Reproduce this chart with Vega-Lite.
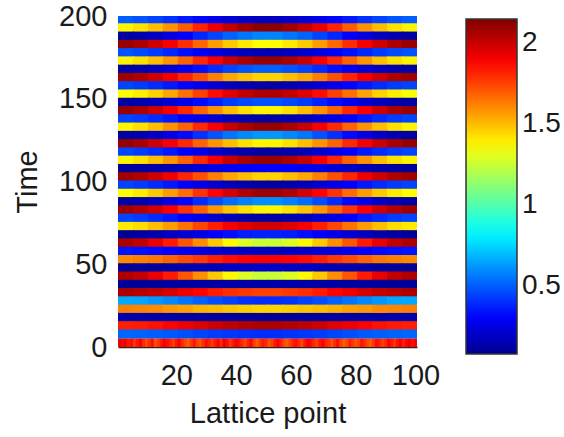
{
  "$schema": "https://vega.github.io/schema/vega-lite/v6.json",
  "width": 299,
  "height": 331,
  "autosize": {"type": "none"},
  "padding": {"left": 118, "top": 16, "right": 147, "bottom": 90},
  "background": "white",
  "config": {
    "view": {"stroke": null},
    "font": "Liberation Sans",
    "axis": {"labelColor": "#1a1a1a", "titleColor": "#1a1a1a", "titleFontWeight": "normal", "grid": false, "ticks": false, "domain": false, "labelFlush": false, "labelOverlap": false}
  },
  "datasets": {
    "field": [
      {"t":195,"p":3,"v":0.50},{"t":195,"p":8,"v":0.48},{"t":195,"p":13,"v":0.45},{"t":195,"p":18,"v":0.41},{"t":195,"p":23,"v":0.36},{"t":195,"p":28,"v":0.32},{"t":195,"p":33,"v":0.27},{"t":195,"p":38,"v":0.23},{"t":195,"p":43,"v":0.20},{"t":195,"p":48,"v":0.18},{"t":195,"p":53,"v":0.18},{"t":195,"p":58,"v":0.20},{"t":195,"p":63,"v":0.23},{"t":195,"p":68,"v":0.27},{"t":195,"p":73,"v":0.32},{"t":195,"p":78,"v":0.36},{"t":195,"p":83,"v":0.41},{"t":195,"p":88,"v":0.45},{"t":195,"p":93,"v":0.48},{"t":195,"p":98,"v":0.50},
      {"t":190,"p":3,"v":1.38},{"t":190,"p":8,"v":1.42},{"t":190,"p":13,"v":1.49},{"t":190,"p":18,"v":1.58},{"t":190,"p":23,"v":1.69},{"t":190,"p":28,"v":1.81},{"t":190,"p":33,"v":1.92},{"t":190,"p":38,"v":2.01},{"t":190,"p":43,"v":2.08},{"t":190,"p":48,"v":2.12},{"t":190,"p":53,"v":2.12},{"t":190,"p":58,"v":2.08},{"t":190,"p":63,"v":2.01},{"t":190,"p":68,"v":1.92},{"t":190,"p":73,"v":1.81},{"t":190,"p":78,"v":1.69},{"t":190,"p":83,"v":1.58},{"t":190,"p":88,"v":1.49},{"t":190,"p":93,"v":1.42},{"t":190,"p":98,"v":1.38},
      {"t":185,"p":3,"v":0.12},{"t":185,"p":8,"v":0.15},{"t":185,"p":13,"v":0.19},{"t":185,"p":18,"v":0.25},{"t":185,"p":23,"v":0.31},{"t":185,"p":28,"v":0.39},{"t":185,"p":33,"v":0.45},{"t":185,"p":38,"v":0.51},{"t":185,"p":43,"v":0.55},{"t":185,"p":48,"v":0.58},{"t":185,"p":53,"v":0.58},{"t":185,"p":58,"v":0.55},{"t":185,"p":63,"v":0.51},{"t":185,"p":68,"v":0.45},{"t":185,"p":73,"v":0.39},{"t":185,"p":78,"v":0.31},{"t":185,"p":83,"v":0.25},{"t":185,"p":88,"v":0.19},{"t":185,"p":93,"v":0.15},{"t":185,"p":98,"v":0.12},
      {"t":180,"p":3,"v":2.10},{"t":180,"p":8,"v":2.06},{"t":180,"p":13,"v":1.99},{"t":180,"p":18,"v":1.90},{"t":180,"p":23,"v":1.79},{"t":180,"p":28,"v":1.67},{"t":180,"p":33,"v":1.56},{"t":180,"p":38,"v":1.47},{"t":180,"p":43,"v":1.40},{"t":180,"p":48,"v":1.36},{"t":180,"p":53,"v":1.36},{"t":180,"p":58,"v":1.40},{"t":180,"p":63,"v":1.47},{"t":180,"p":68,"v":1.56},{"t":180,"p":73,"v":1.67},{"t":180,"p":78,"v":1.79},{"t":180,"p":83,"v":1.90},{"t":180,"p":88,"v":1.99},{"t":180,"p":93,"v":2.06},{"t":180,"p":98,"v":2.10},
      {"t":175,"p":3,"v":0.48},{"t":175,"p":8,"v":0.46},{"t":175,"p":13,"v":0.43},{"t":175,"p":18,"v":0.39},{"t":175,"p":23,"v":0.34},{"t":175,"p":28,"v":0.29},{"t":175,"p":33,"v":0.24},{"t":175,"p":38,"v":0.20},{"t":175,"p":43,"v":0.17},{"t":175,"p":48,"v":0.15},{"t":175,"p":53,"v":0.15},{"t":175,"p":58,"v":0.17},{"t":175,"p":63,"v":0.20},{"t":175,"p":68,"v":0.24},{"t":175,"p":73,"v":0.29},{"t":175,"p":78,"v":0.34},{"t":175,"p":83,"v":0.39},{"t":175,"p":88,"v":0.43},{"t":175,"p":93,"v":0.46},{"t":175,"p":98,"v":0.48},
      {"t":170,"p":3,"v":1.38},{"t":170,"p":8,"v":1.42},{"t":170,"p":13,"v":1.49},{"t":170,"p":18,"v":1.58},{"t":170,"p":23,"v":1.68},{"t":170,"p":28,"v":1.80},{"t":170,"p":33,"v":1.90},{"t":170,"p":38,"v":2.00},{"t":170,"p":43,"v":2.06},{"t":170,"p":48,"v":2.10},{"t":170,"p":53,"v":2.10},{"t":170,"p":58,"v":2.06},{"t":170,"p":63,"v":2.00},{"t":170,"p":68,"v":1.90},{"t":170,"p":73,"v":1.80},{"t":170,"p":78,"v":1.68},{"t":170,"p":83,"v":1.58},{"t":170,"p":88,"v":1.49},{"t":170,"p":93,"v":1.42},{"t":170,"p":98,"v":1.38},
      {"t":165,"p":3,"v":0.12},{"t":165,"p":8,"v":0.14},{"t":165,"p":13,"v":0.18},{"t":165,"p":18,"v":0.22},{"t":165,"p":23,"v":0.28},{"t":165,"p":28,"v":0.34},{"t":165,"p":33,"v":0.40},{"t":165,"p":38,"v":0.45},{"t":165,"p":43,"v":0.48},{"t":165,"p":48,"v":0.50},{"t":165,"p":53,"v":0.50},{"t":165,"p":58,"v":0.48},{"t":165,"p":63,"v":0.45},{"t":165,"p":68,"v":0.40},{"t":165,"p":73,"v":0.34},{"t":165,"p":78,"v":0.28},{"t":165,"p":83,"v":0.22},{"t":165,"p":88,"v":0.18},{"t":165,"p":93,"v":0.14},{"t":165,"p":98,"v":0.12},
      {"t":160,"p":3,"v":2.08},{"t":160,"p":8,"v":2.05},{"t":160,"p":13,"v":1.99},{"t":160,"p":18,"v":1.91},{"t":160,"p":23,"v":1.81},{"t":160,"p":28,"v":1.72},{"t":160,"p":33,"v":1.62},{"t":160,"p":38,"v":1.54},{"t":160,"p":43,"v":1.49},{"t":160,"p":48,"v":1.45},{"t":160,"p":53,"v":1.45},{"t":160,"p":58,"v":1.49},{"t":160,"p":63,"v":1.54},{"t":160,"p":68,"v":1.62},{"t":160,"p":73,"v":1.72},{"t":160,"p":78,"v":1.81},{"t":160,"p":83,"v":1.91},{"t":160,"p":88,"v":1.99},{"t":160,"p":93,"v":2.05},{"t":160,"p":98,"v":2.08},
      {"t":155,"p":3,"v":0.45},{"t":155,"p":8,"v":0.43},{"t":155,"p":13,"v":0.40},{"t":155,"p":18,"v":0.36},{"t":155,"p":23,"v":0.32},{"t":155,"p":28,"v":0.27},{"t":155,"p":33,"v":0.22},{"t":155,"p":38,"v":0.18},{"t":155,"p":43,"v":0.15},{"t":155,"p":48,"v":0.13},{"t":155,"p":53,"v":0.13},{"t":155,"p":58,"v":0.15},{"t":155,"p":63,"v":0.18},{"t":155,"p":68,"v":0.22},{"t":155,"p":73,"v":0.27},{"t":155,"p":78,"v":0.32},{"t":155,"p":83,"v":0.36},{"t":155,"p":88,"v":0.40},{"t":155,"p":93,"v":0.43},{"t":155,"p":98,"v":0.45},
      {"t":150,"p":3,"v":1.35},{"t":150,"p":8,"v":1.39},{"t":150,"p":13,"v":1.45},{"t":150,"p":18,"v":1.54},{"t":150,"p":23,"v":1.65},{"t":150,"p":28,"v":1.75},{"t":150,"p":33,"v":1.86},{"t":150,"p":38,"v":1.95},{"t":150,"p":43,"v":2.01},{"t":150,"p":48,"v":2.05},{"t":150,"p":53,"v":2.05},{"t":150,"p":58,"v":2.01},{"t":150,"p":63,"v":1.95},{"t":150,"p":68,"v":1.86},{"t":150,"p":73,"v":1.75},{"t":150,"p":78,"v":1.65},{"t":150,"p":83,"v":1.54},{"t":150,"p":88,"v":1.45},{"t":150,"p":93,"v":1.39},{"t":150,"p":98,"v":1.35},
      {"t":145,"p":3,"v":0.12},{"t":145,"p":8,"v":0.14},{"t":145,"p":13,"v":0.17},{"t":145,"p":18,"v":0.22},{"t":145,"p":23,"v":0.27},{"t":145,"p":28,"v":0.33},{"t":145,"p":33,"v":0.38},{"t":145,"p":38,"v":0.43},{"t":145,"p":43,"v":0.46},{"t":145,"p":48,"v":0.48},{"t":145,"p":53,"v":0.48},{"t":145,"p":58,"v":0.46},{"t":145,"p":63,"v":0.43},{"t":145,"p":68,"v":0.38},{"t":145,"p":73,"v":0.33},{"t":145,"p":78,"v":0.27},{"t":145,"p":83,"v":0.22},{"t":145,"p":88,"v":0.17},{"t":145,"p":93,"v":0.14},{"t":145,"p":98,"v":0.12},
      {"t":140,"p":3,"v":2.10},{"t":140,"p":8,"v":2.06},{"t":140,"p":13,"v":1.99},{"t":140,"p":18,"v":1.90},{"t":140,"p":23,"v":1.80},{"t":140,"p":28,"v":1.68},{"t":140,"p":33,"v":1.58},{"t":140,"p":38,"v":1.49},{"t":140,"p":43,"v":1.42},{"t":140,"p":48,"v":1.38},{"t":140,"p":53,"v":1.38},{"t":140,"p":58,"v":1.42},{"t":140,"p":63,"v":1.49},{"t":140,"p":68,"v":1.58},{"t":140,"p":73,"v":1.68},{"t":140,"p":78,"v":1.80},{"t":140,"p":83,"v":1.90},{"t":140,"p":88,"v":1.99},{"t":140,"p":93,"v":2.06},{"t":140,"p":98,"v":2.10},
      {"t":135,"p":3,"v":0.45},{"t":135,"p":8,"v":0.43},{"t":135,"p":13,"v":0.40},{"t":135,"p":18,"v":0.36},{"t":135,"p":23,"v":0.31},{"t":135,"p":28,"v":0.26},{"t":135,"p":33,"v":0.21},{"t":135,"p":38,"v":0.17},{"t":135,"p":43,"v":0.14},{"t":135,"p":48,"v":0.12},{"t":135,"p":53,"v":0.12},{"t":135,"p":58,"v":0.14},{"t":135,"p":63,"v":0.17},{"t":135,"p":68,"v":0.21},{"t":135,"p":73,"v":0.26},{"t":135,"p":78,"v":0.31},{"t":135,"p":83,"v":0.36},{"t":135,"p":88,"v":0.40},{"t":135,"p":93,"v":0.43},{"t":135,"p":98,"v":0.45},
      {"t":130,"p":3,"v":1.38},{"t":130,"p":8,"v":1.42},{"t":130,"p":13,"v":1.49},{"t":130,"p":18,"v":1.58},{"t":130,"p":23,"v":1.68},{"t":130,"p":28,"v":1.80},{"t":130,"p":33,"v":1.90},{"t":130,"p":38,"v":2.00},{"t":130,"p":43,"v":2.06},{"t":130,"p":48,"v":2.10},{"t":130,"p":53,"v":2.10},{"t":130,"p":58,"v":2.06},{"t":130,"p":63,"v":2.00},{"t":130,"p":68,"v":1.90},{"t":130,"p":73,"v":1.80},{"t":130,"p":78,"v":1.68},{"t":130,"p":83,"v":1.58},{"t":130,"p":88,"v":1.49},{"t":130,"p":93,"v":1.42},{"t":130,"p":98,"v":1.38},
      {"t":125,"p":3,"v":0.12},{"t":125,"p":8,"v":0.15},{"t":125,"p":13,"v":0.19},{"t":125,"p":18,"v":0.26},{"t":125,"p":23,"v":0.33},{"t":125,"p":28,"v":0.41},{"t":125,"p":33,"v":0.48},{"t":125,"p":38,"v":0.55},{"t":125,"p":43,"v":0.59},{"t":125,"p":48,"v":0.62},{"t":125,"p":53,"v":0.62},{"t":125,"p":58,"v":0.59},{"t":125,"p":63,"v":0.55},{"t":125,"p":68,"v":0.48},{"t":125,"p":73,"v":0.41},{"t":125,"p":78,"v":0.33},{"t":125,"p":83,"v":0.26},{"t":125,"p":88,"v":0.19},{"t":125,"p":93,"v":0.15},{"t":125,"p":98,"v":0.12},
      {"t":120,"p":3,"v":2.10},{"t":120,"p":8,"v":2.06},{"t":120,"p":13,"v":1.99},{"t":120,"p":18,"v":1.90},{"t":120,"p":23,"v":1.80},{"t":120,"p":28,"v":1.68},{"t":120,"p":33,"v":1.58},{"t":120,"p":38,"v":1.49},{"t":120,"p":43,"v":1.42},{"t":120,"p":48,"v":1.38},{"t":120,"p":53,"v":1.38},{"t":120,"p":58,"v":1.42},{"t":120,"p":63,"v":1.49},{"t":120,"p":68,"v":1.58},{"t":120,"p":73,"v":1.68},{"t":120,"p":78,"v":1.80},{"t":120,"p":83,"v":1.90},{"t":120,"p":88,"v":1.99},{"t":120,"p":93,"v":2.06},{"t":120,"p":98,"v":2.10},
      {"t":115,"p":3,"v":0.45},{"t":115,"p":8,"v":0.43},{"t":115,"p":13,"v":0.40},{"t":115,"p":18,"v":0.36},{"t":115,"p":23,"v":0.31},{"t":115,"p":28,"v":0.26},{"t":115,"p":33,"v":0.21},{"t":115,"p":38,"v":0.17},{"t":115,"p":43,"v":0.14},{"t":115,"p":48,"v":0.12},{"t":115,"p":53,"v":0.12},{"t":115,"p":58,"v":0.14},{"t":115,"p":63,"v":0.17},{"t":115,"p":68,"v":0.21},{"t":115,"p":73,"v":0.26},{"t":115,"p":78,"v":0.31},{"t":115,"p":83,"v":0.36},{"t":115,"p":88,"v":0.40},{"t":115,"p":93,"v":0.43},{"t":115,"p":98,"v":0.45},
      {"t":110,"p":3,"v":1.38},{"t":110,"p":8,"v":1.42},{"t":110,"p":13,"v":1.49},{"t":110,"p":18,"v":1.58},{"t":110,"p":23,"v":1.68},{"t":110,"p":28,"v":1.80},{"t":110,"p":33,"v":1.90},{"t":110,"p":38,"v":2.00},{"t":110,"p":43,"v":2.06},{"t":110,"p":48,"v":2.10},{"t":110,"p":53,"v":2.10},{"t":110,"p":58,"v":2.06},{"t":110,"p":63,"v":2.00},{"t":110,"p":68,"v":1.90},{"t":110,"p":73,"v":1.80},{"t":110,"p":78,"v":1.68},{"t":110,"p":83,"v":1.58},{"t":110,"p":88,"v":1.49},{"t":110,"p":93,"v":1.42},{"t":110,"p":98,"v":1.38},
      {"t":105,"p":3,"v":0.10},{"t":105,"p":8,"v":0.11},{"t":105,"p":13,"v":0.13},{"t":105,"p":18,"v":0.15},{"t":105,"p":23,"v":0.18},{"t":105,"p":28,"v":0.22},{"t":105,"p":33,"v":0.25},{"t":105,"p":38,"v":0.27},{"t":105,"p":43,"v":0.29},{"t":105,"p":48,"v":0.30},{"t":105,"p":53,"v":0.30},{"t":105,"p":58,"v":0.29},{"t":105,"p":63,"v":0.27},{"t":105,"p":68,"v":0.25},{"t":105,"p":73,"v":0.22},{"t":105,"p":78,"v":0.18},{"t":105,"p":83,"v":0.15},{"t":105,"p":88,"v":0.13},{"t":105,"p":93,"v":0.11},{"t":105,"p":98,"v":0.10},
      {"t":100,"p":3,"v":2.08},{"t":100,"p":8,"v":2.05},{"t":100,"p":13,"v":1.99},{"t":100,"p":18,"v":1.91},{"t":100,"p":23,"v":1.81},{"t":100,"p":28,"v":1.72},{"t":100,"p":33,"v":1.62},{"t":100,"p":38,"v":1.54},{"t":100,"p":43,"v":1.49},{"t":100,"p":48,"v":1.45},{"t":100,"p":53,"v":1.45},{"t":100,"p":58,"v":1.49},{"t":100,"p":63,"v":1.54},{"t":100,"p":68,"v":1.62},{"t":100,"p":73,"v":1.72},{"t":100,"p":78,"v":1.81},{"t":100,"p":83,"v":1.91},{"t":100,"p":88,"v":1.99},{"t":100,"p":93,"v":2.05},{"t":100,"p":98,"v":2.08},
      {"t":95,"p":3,"v":0.45},{"t":95,"p":8,"v":0.43},{"t":95,"p":13,"v":0.40},{"t":95,"p":18,"v":0.36},{"t":95,"p":23,"v":0.31},{"t":95,"p":28,"v":0.26},{"t":95,"p":33,"v":0.21},{"t":95,"p":38,"v":0.17},{"t":95,"p":43,"v":0.14},{"t":95,"p":48,"v":0.12},{"t":95,"p":53,"v":0.12},{"t":95,"p":58,"v":0.14},{"t":95,"p":63,"v":0.17},{"t":95,"p":68,"v":0.21},{"t":95,"p":73,"v":0.26},{"t":95,"p":78,"v":0.31},{"t":95,"p":83,"v":0.36},{"t":95,"p":88,"v":0.40},{"t":95,"p":93,"v":0.43},{"t":95,"p":98,"v":0.45},
      {"t":90,"p":3,"v":1.36},{"t":90,"p":8,"v":1.40},{"t":90,"p":13,"v":1.47},{"t":90,"p":18,"v":1.56},{"t":90,"p":23,"v":1.66},{"t":90,"p":28,"v":1.78},{"t":90,"p":33,"v":1.88},{"t":90,"p":38,"v":1.97},{"t":90,"p":43,"v":2.04},{"t":90,"p":48,"v":2.08},{"t":90,"p":53,"v":2.08},{"t":90,"p":58,"v":2.04},{"t":90,"p":63,"v":1.97},{"t":90,"p":68,"v":1.88},{"t":90,"p":73,"v":1.78},{"t":90,"p":78,"v":1.66},{"t":90,"p":83,"v":1.56},{"t":90,"p":88,"v":1.47},{"t":90,"p":93,"v":1.40},{"t":90,"p":98,"v":1.36},
      {"t":85,"p":3,"v":0.12},{"t":85,"p":8,"v":0.15},{"t":85,"p":13,"v":0.19},{"t":85,"p":18,"v":0.25},{"t":85,"p":23,"v":0.32},{"t":85,"p":28,"v":0.40},{"t":85,"p":33,"v":0.47},{"t":85,"p":38,"v":0.53},{"t":85,"p":43,"v":0.57},{"t":85,"p":48,"v":0.60},{"t":85,"p":53,"v":0.60},{"t":85,"p":58,"v":0.57},{"t":85,"p":63,"v":0.53},{"t":85,"p":68,"v":0.47},{"t":85,"p":73,"v":0.40},{"t":85,"p":78,"v":0.32},{"t":85,"p":83,"v":0.25},{"t":85,"p":88,"v":0.19},{"t":85,"p":93,"v":0.15},{"t":85,"p":98,"v":0.12},
      {"t":80,"p":3,"v":2.08},{"t":80,"p":8,"v":2.04},{"t":80,"p":13,"v":1.98},{"t":80,"p":18,"v":1.89},{"t":80,"p":23,"v":1.78},{"t":80,"p":28,"v":1.68},{"t":80,"p":33,"v":1.57},{"t":80,"p":38,"v":1.48},{"t":80,"p":43,"v":1.42},{"t":80,"p":48,"v":1.38},{"t":80,"p":53,"v":1.38},{"t":80,"p":58,"v":1.42},{"t":80,"p":63,"v":1.48},{"t":80,"p":68,"v":1.57},{"t":80,"p":73,"v":1.68},{"t":80,"p":78,"v":1.78},{"t":80,"p":83,"v":1.89},{"t":80,"p":88,"v":1.98},{"t":80,"p":93,"v":2.04},{"t":80,"p":98,"v":2.08},
      {"t":75,"p":3,"v":0.45},{"t":75,"p":8,"v":0.43},{"t":75,"p":13,"v":0.40},{"t":75,"p":18,"v":0.36},{"t":75,"p":23,"v":0.31},{"t":75,"p":28,"v":0.26},{"t":75,"p":33,"v":0.21},{"t":75,"p":38,"v":0.17},{"t":75,"p":43,"v":0.14},{"t":75,"p":48,"v":0.12},{"t":75,"p":53,"v":0.12},{"t":75,"p":58,"v":0.14},{"t":75,"p":63,"v":0.17},{"t":75,"p":68,"v":0.21},{"t":75,"p":73,"v":0.26},{"t":75,"p":78,"v":0.31},{"t":75,"p":83,"v":0.36},{"t":75,"p":88,"v":0.40},{"t":75,"p":93,"v":0.43},{"t":75,"p":98,"v":0.45},
      {"t":70,"p":3,"v":1.40},{"t":70,"p":8,"v":1.43},{"t":70,"p":13,"v":1.49},{"t":70,"p":18,"v":1.56},{"t":70,"p":23,"v":1.65},{"t":70,"p":28,"v":1.74},{"t":70,"p":33,"v":1.82},{"t":70,"p":38,"v":1.90},{"t":70,"p":43,"v":1.95},{"t":70,"p":48,"v":1.98},{"t":70,"p":53,"v":1.98},{"t":70,"p":58,"v":1.95},{"t":70,"p":63,"v":1.90},{"t":70,"p":68,"v":1.82},{"t":70,"p":73,"v":1.74},{"t":70,"p":78,"v":1.65},{"t":70,"p":83,"v":1.56},{"t":70,"p":88,"v":1.49},{"t":70,"p":93,"v":1.43},{"t":70,"p":98,"v":1.40},
      {"t":65,"p":3,"v":0.10},{"t":65,"p":8,"v":0.12},{"t":65,"p":13,"v":0.14},{"t":65,"p":18,"v":0.18},{"t":65,"p":23,"v":0.22},{"t":65,"p":28,"v":0.26},{"t":65,"p":33,"v":0.30},{"t":65,"p":38,"v":0.34},{"t":65,"p":43,"v":0.37},{"t":65,"p":48,"v":0.38},{"t":65,"p":53,"v":0.38},{"t":65,"p":58,"v":0.37},{"t":65,"p":63,"v":0.34},{"t":65,"p":68,"v":0.30},{"t":65,"p":73,"v":0.26},{"t":65,"p":78,"v":0.22},{"t":65,"p":83,"v":0.18},{"t":65,"p":88,"v":0.14},{"t":65,"p":93,"v":0.12},{"t":65,"p":98,"v":0.10},
      {"t":60,"p":3,"v":2.05},{"t":60,"p":8,"v":2.01},{"t":60,"p":13,"v":1.93},{"t":60,"p":18,"v":1.83},{"t":60,"p":23,"v":1.71},{"t":60,"p":28,"v":1.59},{"t":60,"p":33,"v":1.47},{"t":60,"p":38,"v":1.37},{"t":60,"p":43,"v":1.29},{"t":60,"p":48,"v":1.25},{"t":60,"p":53,"v":1.25},{"t":60,"p":58,"v":1.29},{"t":60,"p":63,"v":1.37},{"t":60,"p":68,"v":1.47},{"t":60,"p":73,"v":1.59},{"t":60,"p":78,"v":1.71},{"t":60,"p":83,"v":1.83},{"t":60,"p":88,"v":1.93},{"t":60,"p":93,"v":2.01},{"t":60,"p":98,"v":2.05},
      {"t":55,"p":3,"v":0.35},{"t":55,"p":8,"v":0.34},{"t":55,"p":13,"v":0.33},{"t":55,"p":18,"v":0.30},{"t":55,"p":23,"v":0.28},{"t":55,"p":28,"v":0.25},{"t":55,"p":33,"v":0.23},{"t":55,"p":38,"v":0.20},{"t":55,"p":43,"v":0.19},{"t":55,"p":48,"v":0.18},{"t":55,"p":53,"v":0.18},{"t":55,"p":58,"v":0.19},{"t":55,"p":63,"v":0.20},{"t":55,"p":68,"v":0.23},{"t":55,"p":73,"v":0.25},{"t":55,"p":78,"v":0.28},{"t":55,"p":83,"v":0.30},{"t":55,"p":88,"v":0.33},{"t":55,"p":93,"v":0.34},{"t":55,"p":98,"v":0.35},
      {"t":50,"p":3,"v":1.60},{"t":50,"p":8,"v":1.62},{"t":50,"p":13,"v":1.64},{"t":50,"p":18,"v":1.68},{"t":50,"p":23,"v":1.73},{"t":50,"p":28,"v":1.77},{"t":50,"p":33,"v":1.82},{"t":50,"p":38,"v":1.86},{"t":50,"p":43,"v":1.88},{"t":50,"p":48,"v":1.90},{"t":50,"p":53,"v":1.90},{"t":50,"p":58,"v":1.88},{"t":50,"p":63,"v":1.86},{"t":50,"p":68,"v":1.82},{"t":50,"p":73,"v":1.77},{"t":50,"p":78,"v":1.73},{"t":50,"p":83,"v":1.68},{"t":50,"p":88,"v":1.64},{"t":50,"p":93,"v":1.62},{"t":50,"p":98,"v":1.60},
      {"t":45,"p":3,"v":0.10},{"t":45,"p":8,"v":0.11},{"t":45,"p":13,"v":0.11},{"t":45,"p":18,"v":0.13},{"t":45,"p":23,"v":0.14},{"t":45,"p":28,"v":0.16},{"t":45,"p":33,"v":0.17},{"t":45,"p":38,"v":0.19},{"t":45,"p":43,"v":0.19},{"t":45,"p":48,"v":0.20},{"t":45,"p":53,"v":0.20},{"t":45,"p":58,"v":0.19},{"t":45,"p":63,"v":0.19},{"t":45,"p":68,"v":0.17},{"t":45,"p":73,"v":0.16},{"t":45,"p":78,"v":0.14},{"t":45,"p":83,"v":0.13},{"t":45,"p":88,"v":0.11},{"t":45,"p":93,"v":0.11},{"t":45,"p":98,"v":0.10},
      {"t":40,"p":3,"v":2.05},{"t":40,"p":8,"v":2.01},{"t":40,"p":13,"v":1.93},{"t":40,"p":18,"v":1.83},{"t":40,"p":23,"v":1.71},{"t":40,"p":28,"v":1.59},{"t":40,"p":33,"v":1.47},{"t":40,"p":38,"v":1.37},{"t":40,"p":43,"v":1.29},{"t":40,"p":48,"v":1.25},{"t":40,"p":53,"v":1.25},{"t":40,"p":58,"v":1.29},{"t":40,"p":63,"v":1.37},{"t":40,"p":68,"v":1.47},{"t":40,"p":73,"v":1.59},{"t":40,"p":78,"v":1.71},{"t":40,"p":83,"v":1.83},{"t":40,"p":88,"v":1.93},{"t":40,"p":93,"v":2.01},{"t":40,"p":98,"v":2.05},
      {"t":35,"p":3,"v":0.10},{"t":35,"p":8,"v":0.10},{"t":35,"p":13,"v":0.10},{"t":35,"p":18,"v":0.11},{"t":35,"p":23,"v":0.11},{"t":35,"p":28,"v":0.12},{"t":35,"p":33,"v":0.12},{"t":35,"p":38,"v":0.13},{"t":35,"p":43,"v":0.13},{"t":35,"p":48,"v":0.13},{"t":35,"p":53,"v":0.13},{"t":35,"p":58,"v":0.13},{"t":35,"p":63,"v":0.13},{"t":35,"p":68,"v":0.12},{"t":35,"p":73,"v":0.12},{"t":35,"p":78,"v":0.11},{"t":35,"p":83,"v":0.11},{"t":35,"p":88,"v":0.10},{"t":35,"p":93,"v":0.10},{"t":35,"p":98,"v":0.10},
      {"t":30,"p":3,"v":2.05},{"t":30,"p":8,"v":2.03},{"t":30,"p":13,"v":2.01},{"t":30,"p":18,"v":1.97},{"t":30,"p":23,"v":1.92},{"t":30,"p":28,"v":1.88},{"t":30,"p":33,"v":1.83},{"t":30,"p":38,"v":1.79},{"t":30,"p":43,"v":1.77},{"t":30,"p":48,"v":1.75},{"t":30,"p":53,"v":1.75},{"t":30,"p":58,"v":1.77},{"t":30,"p":63,"v":1.79},{"t":30,"p":68,"v":1.83},{"t":30,"p":73,"v":1.88},{"t":30,"p":78,"v":1.92},{"t":30,"p":83,"v":1.97},{"t":30,"p":88,"v":2.01},{"t":30,"p":93,"v":2.03},{"t":30,"p":98,"v":2.05},
      {"t":25,"p":3,"v":0.66},{"t":25,"p":8,"v":0.65},{"t":25,"p":13,"v":0.62},{"t":25,"p":18,"v":0.59},{"t":25,"p":23,"v":0.55},{"t":25,"p":28,"v":0.51},{"t":25,"p":33,"v":0.47},{"t":25,"p":38,"v":0.44},{"t":25,"p":43,"v":0.41},{"t":25,"p":48,"v":0.40},{"t":25,"p":53,"v":0.40},{"t":25,"p":58,"v":0.41},{"t":25,"p":63,"v":0.44},{"t":25,"p":68,"v":0.47},{"t":25,"p":73,"v":0.51},{"t":25,"p":78,"v":0.55},{"t":25,"p":83,"v":0.59},{"t":25,"p":88,"v":0.62},{"t":25,"p":93,"v":0.65},{"t":25,"p":98,"v":0.66},
      {"t":20,"p":3,"v":1.62},{"t":20,"p":8,"v":1.61},{"t":20,"p":13,"v":1.60},{"t":20,"p":18,"v":1.57},{"t":20,"p":23,"v":1.55},{"t":20,"p":28,"v":1.52},{"t":20,"p":33,"v":1.50},{"t":20,"p":38,"v":1.48},{"t":20,"p":43,"v":1.46},{"t":20,"p":48,"v":1.45},{"t":20,"p":53,"v":1.45},{"t":20,"p":58,"v":1.46},{"t":20,"p":63,"v":1.48},{"t":20,"p":68,"v":1.50},{"t":20,"p":73,"v":1.52},{"t":20,"p":78,"v":1.55},{"t":20,"p":83,"v":1.57},{"t":20,"p":88,"v":1.60},{"t":20,"p":93,"v":1.61},{"t":20,"p":98,"v":1.62},
      {"t":15,"p":3,"v":0.14},{"t":15,"p":8,"v":0.14},{"t":15,"p":13,"v":0.13},{"t":15,"p":18,"v":0.13},{"t":15,"p":23,"v":0.12},{"t":15,"p":28,"v":0.12},{"t":15,"p":33,"v":0.11},{"t":15,"p":38,"v":0.11},{"t":15,"p":43,"v":0.10},{"t":15,"p":48,"v":0.10},{"t":15,"p":53,"v":0.10},{"t":15,"p":58,"v":0.10},{"t":15,"p":63,"v":0.11},{"t":15,"p":68,"v":0.11},{"t":15,"p":73,"v":0.12},{"t":15,"p":78,"v":0.12},{"t":15,"p":83,"v":0.13},{"t":15,"p":88,"v":0.13},{"t":15,"p":93,"v":0.14},{"t":15,"p":98,"v":0.14},
      {"t":10,"p":3,"v":1.82},{"t":10,"p":8,"v":1.83},{"t":10,"p":13,"v":1.85},{"t":10,"p":18,"v":1.88},{"t":10,"p":23,"v":1.92},{"t":10,"p":28,"v":1.95},{"t":10,"p":33,"v":1.99},{"t":10,"p":38,"v":2.02},{"t":10,"p":43,"v":2.04},{"t":10,"p":48,"v":2.05},{"t":10,"p":53,"v":2.05},{"t":10,"p":58,"v":2.04},{"t":10,"p":63,"v":2.02},{"t":10,"p":68,"v":1.99},{"t":10,"p":73,"v":1.95},{"t":10,"p":78,"v":1.92},{"t":10,"p":83,"v":1.88},{"t":10,"p":88,"v":1.85},{"t":10,"p":93,"v":1.83},{"t":10,"p":98,"v":1.82},
      {"t":5,"p":3,"v":0.52},{"t":5,"p":8,"v":0.51},{"t":5,"p":13,"v":0.50},{"t":5,"p":18,"v":0.49},{"t":5,"p":23,"v":0.47},{"t":5,"p":28,"v":0.45},{"t":5,"p":33,"v":0.43},{"t":5,"p":38,"v":0.42},{"t":5,"p":43,"v":0.41},{"t":5,"p":48,"v":0.40},{"t":5,"p":53,"v":0.40},{"t":5,"p":58,"v":0.41},{"t":5,"p":63,"v":0.42},{"t":5,"p":68,"v":0.43},{"t":5,"p":73,"v":0.45},{"t":5,"p":78,"v":0.47},{"t":5,"p":83,"v":0.49},{"t":5,"p":88,"v":0.50},{"t":5,"p":93,"v":0.51},{"t":5,"p":98,"v":0.52}
    ],
    "initial": [
      {"t":0,"p":1,"v":1.92},{"t":0,"p":2,"v":1.88},{"t":0,"p":3,"v":1.90},{"t":0,"p":4,"v":1.84},{"t":0,"p":5,"v":1.86},{"t":0,"p":6,"v":1.78},{"t":0,"p":7,"v":1.84},{"t":0,"p":8,"v":1.90},{"t":0,"p":9,"v":1.80},{"t":0,"p":10,"v":1.74},
      {"t":0,"p":11,"v":1.80},{"t":0,"p":12,"v":1.86},{"t":0,"p":13,"v":1.72},{"t":0,"p":14,"v":1.78},{"t":0,"p":15,"v":1.84},{"t":0,"p":16,"v":1.90},{"t":0,"p":17,"v":1.86},{"t":0,"p":18,"v":1.82},{"t":0,"p":19,"v":1.76},{"t":0,"p":20,"v":1.84},
      {"t":0,"p":21,"v":1.88},{"t":0,"p":22,"v":1.80},{"t":0,"p":23,"v":1.74},{"t":0,"p":24,"v":1.70},{"t":0,"p":25,"v":1.78},{"t":0,"p":26,"v":1.84},{"t":0,"p":27,"v":1.76},{"t":0,"p":28,"v":1.72},{"t":0,"p":29,"v":1.80},{"t":0,"p":30,"v":1.86},
      {"t":0,"p":31,"v":1.82},{"t":0,"p":32,"v":1.76},{"t":0,"p":33,"v":1.84},{"t":0,"p":34,"v":1.88},{"t":0,"p":35,"v":1.80},{"t":0,"p":36,"v":1.92},{"t":0,"p":37,"v":1.86},{"t":0,"p":38,"v":1.78},{"t":0,"p":39,"v":1.84},{"t":0,"p":40,"v":1.90},
      {"t":0,"p":41,"v":1.86},{"t":0,"p":42,"v":1.80},{"t":0,"p":43,"v":1.74},{"t":0,"p":44,"v":1.82},{"t":0,"p":45,"v":1.88},{"t":0,"p":46,"v":1.76},{"t":0,"p":47,"v":1.70},{"t":0,"p":48,"v":1.78},{"t":0,"p":49,"v":1.84},{"t":0,"p":50,"v":1.80},
      {"t":0,"p":51,"v":1.72},{"t":0,"p":52,"v":1.76},{"t":0,"p":53,"v":1.84},{"t":0,"p":54,"v":1.88},{"t":0,"p":55,"v":1.82},{"t":0,"p":56,"v":1.74},{"t":0,"p":57,"v":1.70},{"t":0,"p":58,"v":1.76},{"t":0,"p":59,"v":1.82},{"t":0,"p":60,"v":1.86},
      {"t":0,"p":61,"v":1.80},{"t":0,"p":62,"v":1.74},{"t":0,"p":63,"v":1.84},{"t":0,"p":64,"v":1.90},{"t":0,"p":65,"v":1.86},{"t":0,"p":66,"v":1.80},{"t":0,"p":67,"v":1.76},{"t":0,"p":68,"v":1.84},{"t":0,"p":69,"v":1.88},{"t":0,"p":70,"v":1.82},
      {"t":0,"p":71,"v":1.78},{"t":0,"p":72,"v":1.72},{"t":0,"p":73,"v":1.80},{"t":0,"p":74,"v":1.86},{"t":0,"p":75,"v":1.76},{"t":0,"p":76,"v":1.70},{"t":0,"p":77,"v":1.74},{"t":0,"p":78,"v":1.82},{"t":0,"p":79,"v":1.78},{"t":0,"p":80,"v":1.72},
      {"t":0,"p":81,"v":1.76},{"t":0,"p":82,"v":1.84},{"t":0,"p":83,"v":1.80},{"t":0,"p":84,"v":1.74},{"t":0,"p":85,"v":1.70},{"t":0,"p":86,"v":1.78},{"t":0,"p":87,"v":1.86},{"t":0,"p":88,"v":1.82},{"t":0,"p":89,"v":1.76},{"t":0,"p":90,"v":1.80},
      {"t":0,"p":91,"v":1.88},{"t":0,"p":92,"v":1.84},{"t":0,"p":93,"v":1.78},{"t":0,"p":94,"v":1.86},{"t":0,"p":95,"v":1.90},{"t":0,"p":96,"v":1.82},{"t":0,"p":97,"v":1.88},{"t":0,"p":98,"v":1.92},{"t":0,"p":99,"v":1.86},{"t":0,"p":100,"v":1.90}
    ]
  },
  "layer": [
    {
      "data": {"name": "field"},
      "transform": [
        {"calculate": "datum.p - 2.5", "as": "p0"},
        {"calculate": "min(datum.p + 2.85, 100.5)", "as": "p1"},
        {"calculate": "min(datum.t + 5.6, 200)", "as": "t1"}
      ],
      "mark": {"type": "rect"},
      "encoding": {
        "x": {
          "field": "p0", "type": "quantitative", "title": "Lattice point",
          "scale": {"domain": [0.5, 100.5], "nice": false, "zero": false},
          "axis": {"values": [20, 40, 60, 80, 100], "domain": true, "domainColor": "#262626", "domainWidth": 1.5, "labelFontSize": 29, "labelPadding": 14, "titleFontSize": 29, "titlePadding": 9}
        },
        "x2": {"field": "p1"},
        "y": {
          "field": "t", "type": "quantitative", "title": "Time",
          "scale": {"domain": [0, 200], "nice": false, "zero": false},
          "axis": {"values": [0, 50, 100, 150, 200], "labelFontSize": 29, "labelPadding": 11, "titleFontSize": 29, "titlePadding": 16}
        },
        "y2": {"field": "t1"},
        "color": {
          "field": "v", "type": "quantitative",
          "scale": {"domain": [0.08, 0.309, 0.834, 1.359, 1.884, 2.146], "range": ["#00008f", "#0000ff", "#00ffff", "#ffff00", "#ff0000", "#800000"], "interpolate": "rgb"},
          "legend": {"type": "gradient", "orient": "none", "legendX": 348, "legendY": 3, "direction": "vertical", "title": null, "gradientLength": 335, "gradientThickness": 51, "gradientStrokeColor": "#333333", "gradientStrokeWidth": 1.5, "values": [0.5, 1, 1.5, 2], "format": "~g", "labelFontSize": 28, "labelOffset": 5, "labelOverlap": false, "labelColor": "#1a1a1a"}
        }
      }
    },
    {
      "data": {"name": "initial"},
      "transform": [
        {"calculate": "datum.p - 0.5", "as": "p0"},
        {"calculate": "min(datum.p + 0.85, 100.5)", "as": "p1"},
        {"calculate": "datum.t + 5", "as": "t1"}
      ],
      "mark": {"type": "rect"},
      "encoding": {
        "x": {"field": "p0", "type": "quantitative"},
        "x2": {"field": "p1"},
        "y": {"field": "t", "type": "quantitative"},
        "y2": {"field": "t1"},
        "color": {"field": "v", "type": "quantitative"}
      }
    }
  ]
}
